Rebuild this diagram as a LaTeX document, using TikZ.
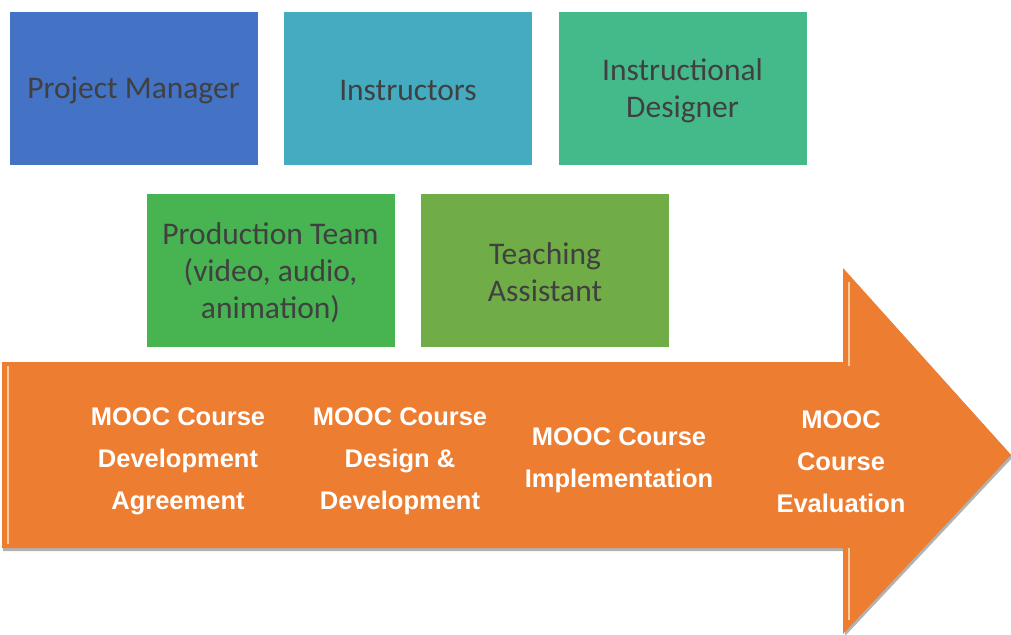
\documentclass[tikz,border=0pt]{standalone}
\usepackage{fontspec}
\setmainfont{Carlito}
\newfontfamily\arialbold{Liberation Sans}[BoldFont={Liberation Sans Bold}]
\definecolor{pmblue}{HTML}{4472C4}
\definecolor{instteal}{HTML}{44ABC1}
\definecolor{idgreen}{HTML}{44BA8B}
\definecolor{ptgreen}{HTML}{47B351}
\definecolor{tagreen}{HTML}{70AD47}
\definecolor{arroworange}{HTML}{ED7D31}
\definecolor{boxtext}{HTML}{404040}
\tikzset{
  rolebox/.style={rectangle, minimum width=248pt, minimum height=153pt, inner sep=0pt,
    align=center, text=boxtext, font=\fontsize{31.5}{37}\selectfont},
  roletext/.style={align=center, text=boxtext, font=\fontsize{31.5}{37}\selectfont},
  phasetext/.style={align=center, text=white, font=\arialbold\bfseries\fontsize{25.5}{42}\selectfont}
}
\begin{document}
\begin{tikzpicture}[x=1pt,y=-1pt]
\useasboundingbox (0,0) rectangle (1011,634);
% role boxes
\node[rolebox, fill=pmblue] (pm) at (133.5,88.5) {};
\node[rolebox, fill=instteal] (inst) at (408,88.5) {};
\node[rolebox, fill=idgreen] (id) at (682.5,88.5) {};
\node[rolebox, fill=ptgreen] (pt) at (270.5,270.5) {};
\node[rolebox, fill=tagreen] (ta) at (545,270.5) {};
\node[roletext] (pmt) at ([yshift=-2pt]pm.center) {Project Manager};
\node[roletext] (instt) at ([yshift=-2pt]inst.center) {Instructors};
\node[roletext] (idt) at ([yshift=-2pt]id.center) {Instructional\\Designer};
\node[roletext] (ptt) at ([yshift=-2pt]pt.center) {Production Team\\(video, audio,\\animation)};
\node[roletext] (tat) at ([yshift=-2pt]ta.center) {Teaching\\Assistant};
% arrow with shadow
\fill[gray!60] (3,364) -- (845,364) -- (845,271) -- (1013,457) -- (845,636) -- (845,551) -- (3,551) -- cycle;
\fill[arroworange] (2,362) -- (843,362) -- (843,268) -- (1011,455) -- (843,634) -- (843,548) -- (2,548) -- cycle;
\draw[orange!40!white, line width=1.5pt] (8,366) -- (8,544);
\draw[orange!40!white, line width=1.2pt] (849,282) -- (849,366);
\draw[orange!40!white, line width=1.2pt] (849,548) -- (849,620);
% phase labels
\node[phasetext] (p1) at (178,461.5) {MOOC Course\\Development\\Agreement};
\node[phasetext] (p2) at (400,461.5) {MOOC Course\\Design \&\\Development};
\node[phasetext] (p3) at (619,460.5) {MOOC Course\\Implementation};
\node[phasetext] (p4) at (841,461.5) {MOOC\\Course\\Evaluation};
\end{tikzpicture}
\end{document}
